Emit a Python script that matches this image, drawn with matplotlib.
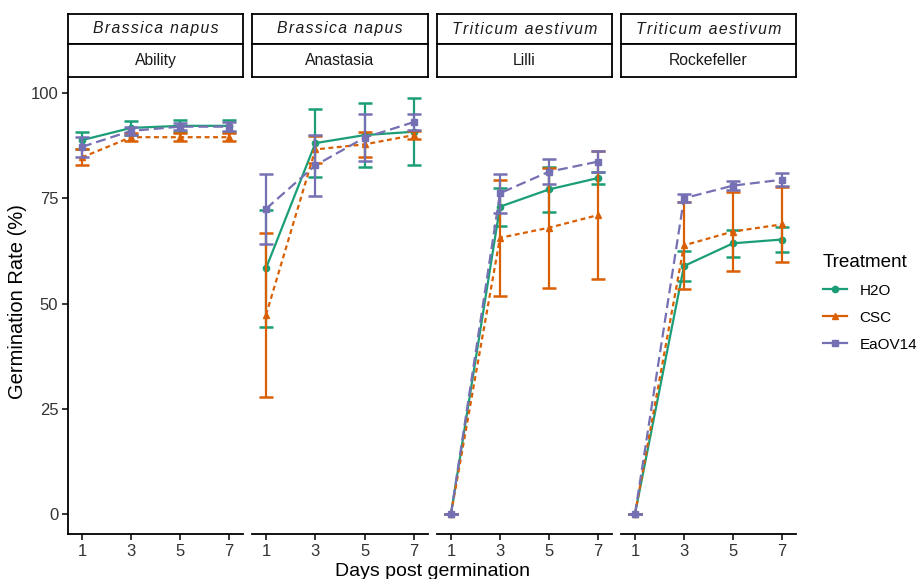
import matplotlib
matplotlib.use("Agg")
import matplotlib.pyplot as plt
from matplotlib.lines import Line2D

plt.rcParams['font.family'] = ['Liberation Sans', 'DejaVu Sans']

# data ---------------------------------------------------------------
days = [1, 3, 5, 7]
species = ["Brassica napus", "Brassica napus", "Triticum aestivum", "Triticum aestivum"]
cultivars = ["Ability", "Anastasia", "Lilli", "Rockefeller"]
treatments = ["H2O", "CSC", "EaOV14"]

# mean germination rate (%) per cultivar
h2o_mean = [[88.8, 91.7, 92.2, 92.2],
            [58.4, 88.1, 90.0, 90.8],
            [0.0, 73.0, 77.1, 79.8],
            [0.0, 58.9, 64.3, 65.2]]
csc_mean = [[84.7, 89.5, 89.5, 89.5],
            [47.3, 86.6, 87.8, 90.0],
            [0.0, 65.6, 68.0, 71.0],
            [0.0, 63.8, 67.1, 68.8]]
eao_mean = [[87.2, 91.0, 92.0, 92.0],
            [72.5, 82.8, 89.4, 93.1],
            [0.0, 76.2, 81.3, 83.7],
            [0.0, 75.0, 78.0, 79.4]]
# error (+/-)
h2o_err = [[2.0, 1.6, 1.4, 1.5],
           [13.9, 8.1, 7.6, 7.9],
           [0.0, 4.5, 5.3, 1.4],
           [0.0, 3.6, 3.2, 3.0]]
csc_err = [[1.9, 0.9, 1.0, 1.0],
           [19.4, 3.2, 3.0, 1.0],
           [0.0, 13.8, 14.2, 15.2],
           [0.0, 10.3, 9.4, 8.9]]
eao_err = [[2.4, 1.0, 0.9, 1.0],
           [8.3, 7.2, 5.6, 1.9],
           [0.0, 4.6, 3.0, 2.5],
           [0.0, 1.0, 1.0, 1.6]]

means = [h2o_mean, csc_mean, eao_mean]
errs = [h2o_err, csc_err, eao_err]
colors = ["#1B9E77", "#D95F02", "#7570B3"]
styles = ["-", (0, (2.2, 1.6)), (0, (4.5, 2.2))]
markers = ["o", "^", "s"]

# layout (figure pixels) ----------------------------------------------
W, H = 921, 579
fig = plt.figure(figsize=(W / 100, H / 100), dpi=100)
panel_x = [(68, 243), (252, 428), (437, 612), (621, 796)]
top, bot = 77, 534
txt = "#1a1a1a"
tickcol = "#333333"

for i in range(4):
    x0, x1 = panel_x[i]
    ax = fig.add_axes([x0 / W, 1 - bot / H, (x1 - x0) / W, (bot - top) / H])
    for t in range(3):
        ax.errorbar(days, means[t][i], yerr=errs[t][i], color=colors[t],
                    linestyle=styles[t], lw=1.6, marker=markers[t], ms=4.5,
                    capsize=5, capthick=1.8, elinewidth=1.6, zorder=3 + t)
    ax.set_xlim(0.43, 7.57)
    ax.set_ylim(-4.75, 103.8)
    ax.set_xticks(days)
    ax.set_xticklabels([str(d) for d in days], fontsize=12, color=tickcol)
    ax.spines['top'].set_visible(False)
    ax.spines['right'].set_visible(False)
    ax.spines['bottom'].set_linewidth(1.3)
    ax.spines['left'].set_linewidth(1.3)
    ax.tick_params(axis='x', length=4, width=1.1, pad=3)
    if i == 0:
        ax.set_yticks([0, 25, 50, 75, 100])
        ax.set_yticklabels(["0", "25", "50", "75", "100"], fontsize=12, color=tickcol)
        ax.tick_params(axis='y', length=4, width=1.1, pad=3)
    else:
        ax.spines['left'].set_visible(False)
        ax.set_yticks([])

    # strips: species (italic, spaced out) on top, cultivar below
    sa = fig.add_axes([x0 / W, 1 - 44 / H, (x1 - x0) / W, 30 / H])
    sb = fig.add_axes([x0 / W, 1 - 77 / H, (x1 - x0) / W, 33 / H])
    spaced = "\u200a".join(species[i])
    for s, label, st in [(sa, spaced, "italic"), (sb, cultivars[i], "normal")]:
        s.set_xticks([])
        s.set_yticks([])
        for sp in s.spines.values():
            sp.set_linewidth(1.3)
        s.text(0.5, 0.5, label, ha="center", va="center", fontsize=11.3,
               style=st, color=txt, transform=s.transAxes)

fig.text(18 / W, 1 - 302 / H, "Germination Rate (%)", rotation=90, ha="center",
         va="center", fontsize=14.5, color="black")
fig.text(432 / W, 1 - 571 / H, "Days post germination", ha="center",
         va="center", fontsize=14, color="black")

handles = [Line2D([0], [0], color=colors[t], lw=1.6, marker=markers[t], ms=4.5)
           for t in range(3)]
fig.legend(handles, treatments, title="Treatment", loc="upper left",
           bbox_to_anchor=(809 / W, 1 - 240 / H), frameon=False, fontsize=11,
           title_fontsize=13.6, handlelength=1.6, handletextpad=0.8,
           labelspacing=0.85, alignment="left")

fig.savefig("out.png", dpi=100)
